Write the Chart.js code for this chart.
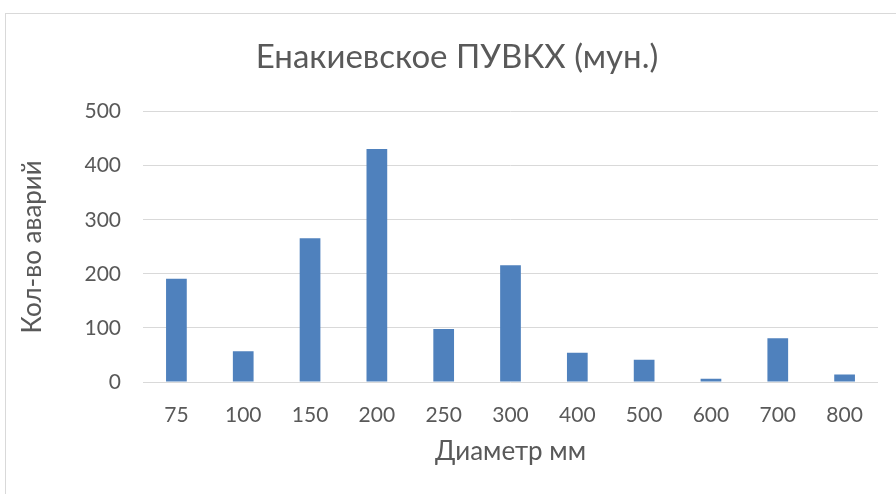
<!DOCTYPE html>
<html>
<head>
<meta charset="utf-8">
<script src="https://cdn.jsdelivr.net/npm/chart.js@4.4.1/dist/chart.umd.min.js"></script>
<style>
  body { margin: 0; background: #fff; }
  #frame { position: absolute; left: 5px; top: 13px; width: 900px; height: 500px; border: 1px solid #d9d9d9; }
  #wrap { position: absolute; left: 0; top: 0; width: 896px; height: 494px; }
</style>
</head>
<body>
<div id="frame"></div>
<div id="wrap"><canvas id="myChart" width="896" height="494"></canvas></div>
<script>
var diameters = ['75', '100', '150', '200', '250', '300', '400', '500', '600', '700', '800'];
var accidents = [191, 57, 266, 431, 98, 216, 54, 41, 6, 81, 14];
var yTicks = [0, 100, 200, 300, 400, 500];

var fontFamily = 'Lato, "Open Sans", sans-serif';
var textColor = '#595959';

var ctx = document.getElementById('myChart').getContext('2d');
var myChart = new Chart(ctx, {
  type: 'bar',
  data: {
    labels: diameters,
    datasets: [
      {
        label: 'Кол-во аварий',
        backgroundColor: '#4f81bd',
        borderWidth: 0,
        barPercentage: 0.62,
        categoryPercentage: 0.5,
        data: accidents
      }
    ]
  },
  options: {
    responsive: false,
    animation: false,
    layout: { padding: { left: 36, right: 18, top: 0, bottom: 0 } },
    plugins: {
      legend: { display: false },
      tooltip: { enabled: false },
      title: {
        display: true,
        text: 'Енакиевское ПУВКХ (мун.)',
        color: textColor,
        font: { family: fontFamily, size: 33, weight: 'normal' },
        padding: { top: 38, bottom: 34 }
      }
    },
    scales: {
      x: {
        grid: { display: false },
        border: { display: false },
        ticks: { color: textColor, font: { family: fontFamily, size: 21 }, padding: 13 },
        title: {
          display: true,
          text: 'Диаметр мм',
          color: textColor,
          font: { family: fontFamily, size: 26 },
          padding: { top: 0, bottom: 27 }
        },
        afterFit: function(scale) { scale.height = 112; }
      },
      y: {
        min: 0,
        max: 500,
        afterBuildTicks: function(scale) {
          scale.ticks = yTicks.map(function(v) { return { value: v }; });
        },
        grid: { color: '#d9d9d9', lineWidth: 1, drawTicks: false },
        border: { display: false },
        ticks: { color: textColor, font: { family: fontFamily, size: 21 }, padding: 22 },
        title: {
          display: true,
          text: 'Кол-во аварий',
          color: textColor,
          font: { family: fontFamily, size: 26 },
          padding: { top: -19, bottom: 0 }
        },
        afterFit: function(scale) { scale.width = 107; }
      }
    }
  }
});
</script>
</body>
</html>
